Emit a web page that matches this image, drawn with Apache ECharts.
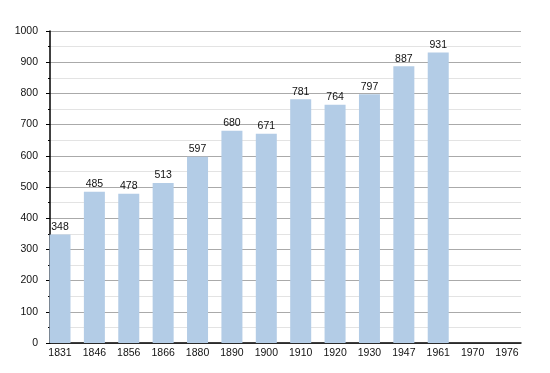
<!DOCTYPE html>
<html><head><meta charset="utf-8">
<script src="https://cdn.jsdelivr.net/npm/echarts@6/dist/echarts.min.js"></script>
<style>html,body{margin:0;padding:0;background:#fff}#c{width:550px;height:373px}</style>
</head><body><div id="c"></div>
<script>
var years = ['1831','1846','1856','1866','1880','1890','1900','1910','1920','1930','1947','1961','1970','1976'];
var population = [348, 485, 478, 513, 597, 680, 671, 781, 764, 797, 887, 931, null, null];
var yMin = 0, yMax = 1000, yStep = 100;

var chart = echarts.init(document.getElementById('c'), null, {renderer:'canvas'});
var font = 'Liberation Sans, Arial, sans-serif';
chart.setOption({
  animation:false,
  grid:[
    {left:60, right:43, top:31, bottom:30},
    {left:50, right:29, top:31, bottom:30}
  ],
  xAxis:[
    {gridIndex:0, type:'category', data:years, boundaryGap:false,
     axisLine:{show:false}, axisTick:{show:false},
     axisLabel:{color:'#111', fontFamily:font, fontSize:10.5, margin:5, interval:0}},
    {gridIndex:1, type:'value', min:0, max:1, show:true,
     axisLine:{show:true, onZero:false, lineStyle:{color:'#000', width:1.5}},
     axisTick:{show:false}, axisLabel:{show:false}, splitLine:{show:false}}
  ],
  yAxis:[
    {gridIndex:0, type:'value', min:yMin, max:yMax, interval:yStep, show:false, splitLine:{show:false}},
    {gridIndex:1, type:'value', min:yMin, max:yMax, interval:yStep,
     axisLine:{show:true, lineStyle:{color:'#000', width:1.5}},
     axisTick:{show:true, length:4, lineStyle:{color:'#000'}},
     minorTick:{show:true, splitNumber:2, length:2, lineStyle:{color:'#000'}},
     axisLabel:{color:'#111', fontFamily:font, fontSize:10.5, margin:12, formatter:function(v){return String(v);}},
     splitLine:{show:true, lineStyle:{color:'#aaaaaa', width:1}},
     minorSplitLine:{show:true, lineStyle:{color:'#e3e3e3', width:1}}}
  ],
  series:[{
    type:'bar', xAxisIndex:0, yAxisIndex:0, data:population, barWidth:21,
    itemStyle:{color:'#b3cce6'},
    label:{show:true, position:'top', distance:2, color:'#111', fontFamily:font, fontSize:10.5},
    z:3
  }]
});
</script></body></html>
